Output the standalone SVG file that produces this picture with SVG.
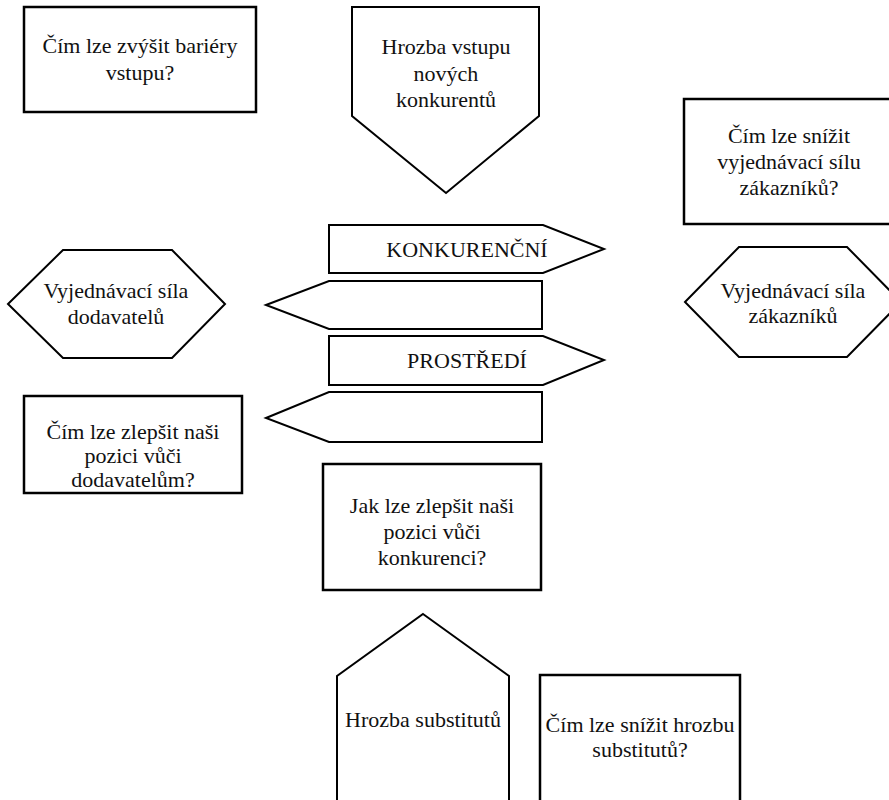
<svg xmlns="http://www.w3.org/2000/svg" width="889" height="800" viewBox="0 0 889 800">
<style>
.s{fill:#fff;stroke:#000;stroke-width:2.5}
.p{fill:#fff;stroke:#000;stroke-width:2}
text{font-family:"Liberation Serif","DejaVu Serif",serif;font-size:22px;fill:#111;text-anchor:middle}
</style>
<rect width="889" height="800" fill="#fff"/>
<g id="bariery">
<rect class="s" x="24" y="7" width="232" height="105"/>
<text x="140" y="53">Čím lze zvýšit bariéry</text>
<text x="140" y="80">vstupu?</text>
</g>
<g id="hrozba-vstupu">
<polygon class="p" points="352,7 539,7 539,116 446,193 352,116"/>
<text x="446" y="54">Hrozba vstupu</text>
<text x="446" y="81">nových</text>
<text x="446" y="107">konkurentů</text>
</g>
<g id="snizit-zakazniku">
<rect class="s" x="684" y="99" width="210" height="125"/>
<text x="789" y="143">Čím lze snížit</text>
<text x="789" y="169">vyjednávací sílu</text>
<text x="789" y="195">zákazníků?</text>
</g>
<g id="sila-dodavatelu">
<polygon class="p" points="8,304 63,250 172,250 225,304 172,358 63,358"/>
<text x="116" y="298">Vyjednávací síla</text>
<text x="116" y="324">dodavatelů</text>
</g>
<g id="sila-zakazniku">
<polygon class="p" points="685,302 739,247 847,247 901,302 847,357 739,357"/>
<text x="793" y="298">Vyjednávací síla</text>
<text x="793" y="323">zákazníků</text>
</g>
<g id="konkurencni">
<polygon class="p" points="329,225 543,225 604,249 543,273 329,273"/>
<text x="467" y="257">KONKURENČNÍ</text>
</g>
<g id="sipka-vlevo-1">
<polygon class="p" points="266,305 329,281 542,281 542,329 329,329"/>
</g>
<g id="prostredi">
<polygon class="p" points="329,336 543,336 604,360 543,385 329,385"/>
<text x="467" y="368">PROSTŘEDÍ</text>
</g>
<g id="sipka-vlevo-2">
<polygon class="p" points="266,418 329,392 542,392 542,442 329,442"/>
</g>
<g id="zlepsit-dodavatelum">
<rect class="s" x="24" y="396" width="218" height="97"/>
<text x="133" y="439">Čím lze zlepšit naši</text>
<text x="133" y="463">pozici vůči</text>
<text x="133" y="487">dodavatelům?</text>
</g>
<g id="zlepsit-konkurenci">
<rect class="s" x="323" y="464" width="218" height="126"/>
<text x="432" y="513">Jak lze zlepšit naši</text>
<text x="432" y="539">pozici vůči</text>
<text x="432" y="565">konkurenci?</text>
</g>
<g id="hrozba-substitutu">
<polygon class="p" points="423,614 509,676 509,806 337,806 337,676"/>
<text x="423" y="727">Hrozba substitutů</text>
</g>
<g id="snizit-substitutu">
<rect class="s" x="540" y="675" width="200" height="131"/>
<text x="640" y="732">Čím lze snížit hrozbu</text>
<text x="640" y="757">substitutů?</text>
</g>
<g id="connectors"></g>
</svg>
